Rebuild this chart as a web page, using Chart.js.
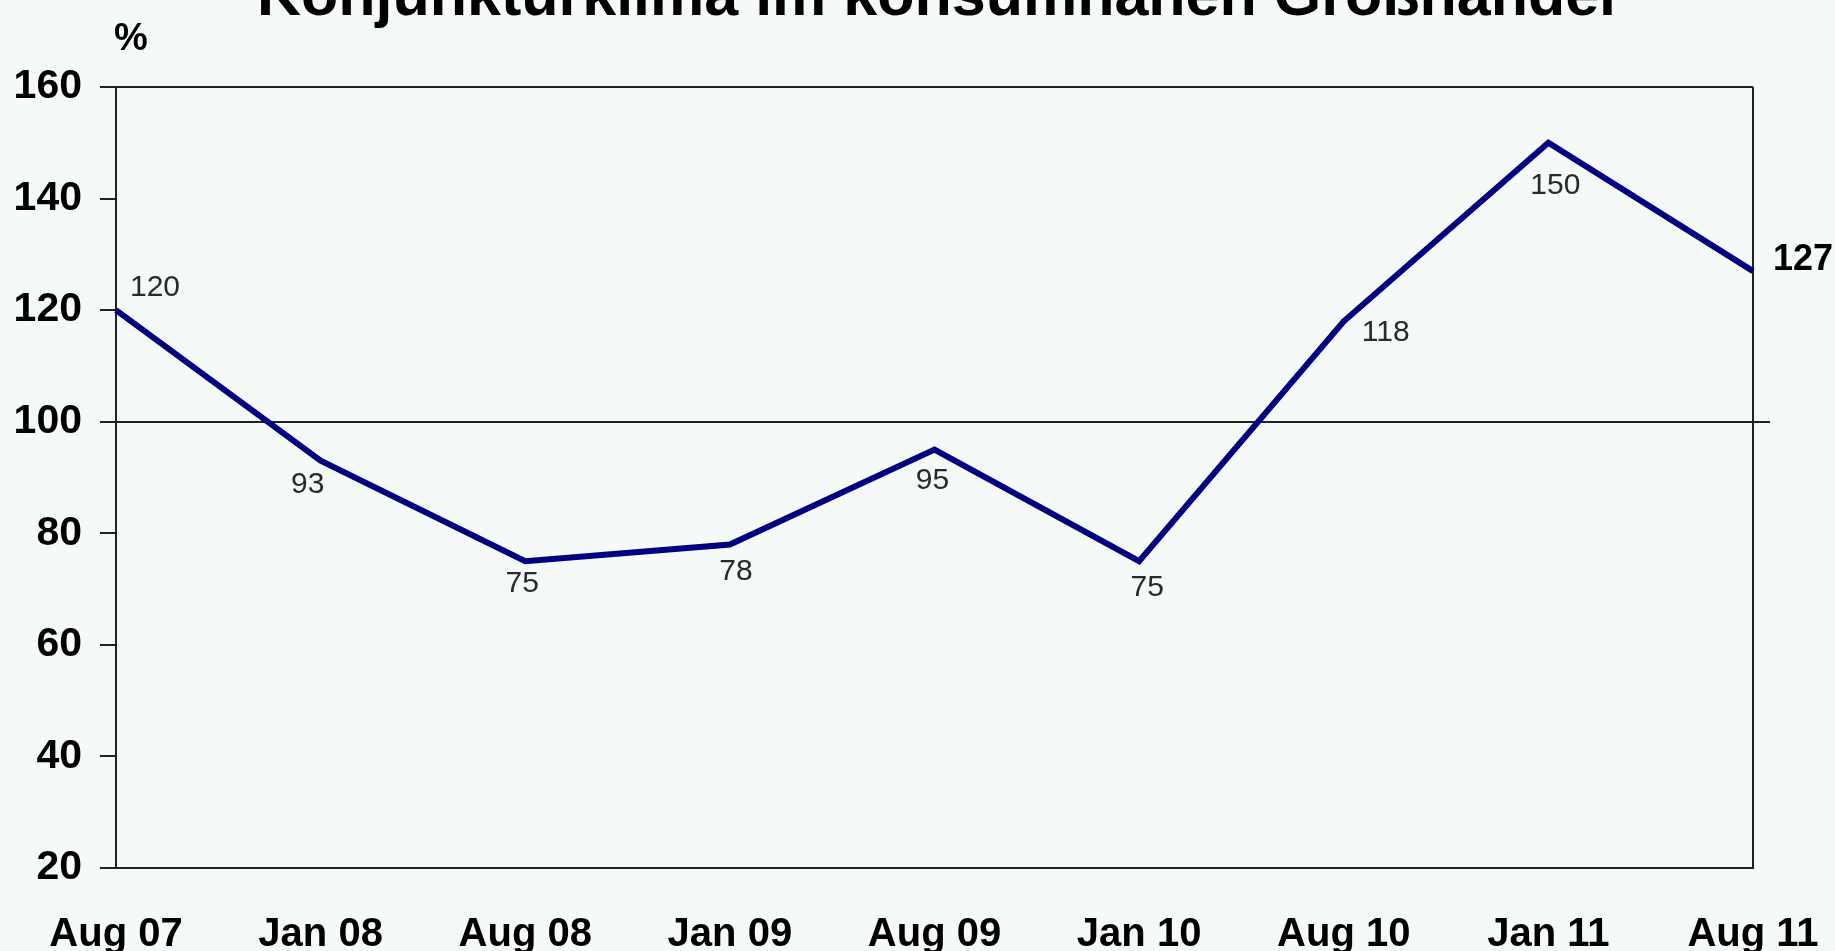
<!DOCTYPE html>
<html>
<head>
<meta charset="utf-8">
<title>Konjunkturklima im konsumnahen Großhandel</title>
<script src="https://cdn.jsdelivr.net/npm/chart.js@4.4.0/dist/chart.umd.min.js"></script>
<style>
  html, body { margin: 0; padding: 0; background: #f5faf8; overflow: hidden; }
  canvas { display: block; }
</style>
</head>
<body>
<canvas id="chart" width="1835" height="951"></canvas>
<script>
// Geschäftsklima-Index, halbjährlich
const months = ['Aug 07', 'Jan 08', 'Aug 08', 'Jan 09', 'Aug 09', 'Jan 10', 'Aug 10', 'Jan 11', 'Aug 11'];
const klima = [120, 93, 75, 78, 95, 75, 118, 150, 127];
const yTicks = [20, 40, 60, 80, 100, 120, 140, 160];

const chartTitle = 'Konjunkturklima im konsumnahen Großhandel';
const unitLabel = '%';

// where each value label sits relative to its point (label centre)
const labelOffsets = [
  [39, -22], [-13, 24], [-3, 23], [6, 27], [-2, 31],
  [8, 27], [42, 11], [7, 43], [20, -11]
];

const FONT = '"Liberation Sans", Arial, sans-serif';
const BG = '#f5faf8';
const AXIS = '#222';

const background = {
  id: 'background',
  beforeDraw(chart) {
    const ctx = chart.ctx;
    ctx.save();
    ctx.fillStyle = BG;
    ctx.fillRect(0, 0, chart.width, chart.height);
    ctx.restore();
  }
};

// the 100 line runs a little past the right border
const baseline = {
  id: 'baseline',
  beforeDatasetsDraw(chart) {
    const { ctx, chartArea } = chart;
    const y = Math.round(chart.scales.y.getPixelForValue(100));
    ctx.save();
    ctx.strokeStyle = AXIS;
    ctx.lineWidth = 2;
    ctx.beginPath();
    ctx.moveTo(chartArea.left, y);
    ctx.lineTo(chartArea.right + 17, y);
    ctx.stroke();
    ctx.restore();
  }
};

const texts = {
  id: 'texts',
  afterDraw(chart) {
    const { ctx, chartArea } = chart;
    ctx.save();
    ctx.fillStyle = '#000';
    ctx.textAlign = 'center';
    ctx.textBaseline = 'alphabetic';
    ctx.font = 'bold 61px ' + FONT;
    ctx.fillText(chartTitle, (chartArea.left + chartArea.right) / 2 + 2, 15);
    ctx.font = 'bold 38px ' + FONT;
    ctx.fillText(unitLabel, chartArea.left + 15, 50);

    // value labels
    const pts = chart.getDatasetMeta(0).data;
    ctx.textBaseline = 'middle';
    pts.forEach((p, i) => {
      const [dx, dy] = labelOffsets[i];
      if (i === pts.length - 1) {
        ctx.font = 'bold 36px ' + FONT;
        ctx.fillStyle = '#000';
        ctx.textAlign = 'left';
      } else {
        ctx.font = '30px ' + FONT;
        ctx.fillStyle = '#2a2a2a';
        ctx.textAlign = 'center';
      }
      ctx.fillText(String(klima[i]), p.x + dx, p.y + dy);
    });
    ctx.restore();
  }
};

new Chart(document.getElementById('chart'), {
  type: 'line',
  data: {
    labels: months,
    datasets: [{
      data: klima,
      borderColor: '#000080',
      borderWidth: 6,
      pointRadius: 0,
      tension: 0,
      fill: false
    }]
  },
  options: {
    responsive: false,
    devicePixelRatio: 1,
    animation: false,
    layout: { autoPadding: false, padding: { top: 87, right: 82, left: 0, bottom: 0 } },
    plugins: {
      legend: { display: false },
      title: { display: false },
      tooltip: { enabled: false }
    },
    scales: {
      x: {
        type: 'category',
        offset: false,
        border: { display: true, color: AXIS, width: 2 },
        grid: {
          drawTicks: false,
          lineWidth: 2,
          color: c => (c.index === months.length - 1 ? AXIS : 'transparent')
        },
        ticks: {
          color: '#000',
          font: { family: FONT, size: 40, weight: 'bold' },
          padding: 43,
          maxRotation: 0,
          autoSkip: false
        },
        afterFit(scale) {
          scale.height = 83;
          // end labels may hang over the plot edges
          scale.paddingLeft = 0;
          scale.paddingRight = 0;
        }
      },
      y: {
        min: yTicks[0],
        max: yTicks[yTicks.length - 1],
        afterBuildTicks(scale) { scale.ticks = yTicks.map(v => ({ value: v })); },
        border: { display: true, color: AXIS, width: 2 },
        grid: {
          lineWidth: 2,
          tickLength: 16,
          tickColor: AXIS,
          color: c => (c.tick && c.tick.value === 160 ? AXIS : 'transparent')
        },
        ticks: {
          color: '#000',
          font: { family: FONT, size: 41, weight: 'bold' },
          padding: 18
        },
        afterFit(scale) { scale.width = 116; }
      }
    }
  },
  plugins: [background, baseline, texts]
});
</script>
</body>
</html>
